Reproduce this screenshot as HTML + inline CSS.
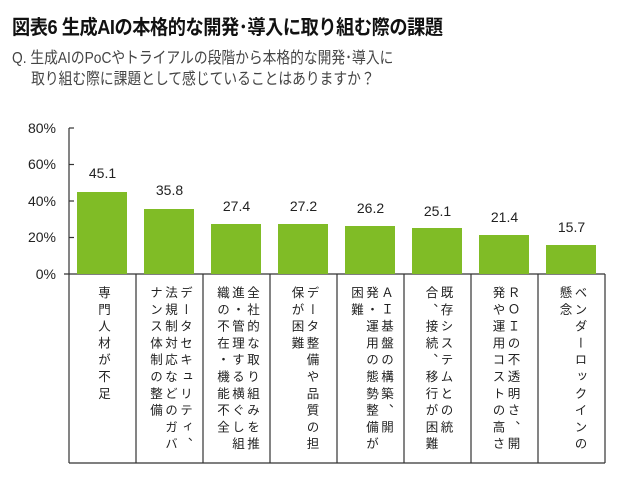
<!DOCTYPE html>
<html><head><meta charset="utf-8"><style>
body{margin:0;width:630px;height:479px;background:#fff;position:relative;overflow:hidden;font-family:"Liberation Sans","Noto Sans CJK JP",sans-serif}
.t{position:absolute;left:12px;top:11px;font-size:20px;font-weight:bold;color:#111;letter-spacing:-0.5px;transform:scaleX(0.91);transform-origin:left top;white-space:nowrap}
.q{position:absolute;left:12px;top:48px;font-size:16px;color:#444;line-height:21px;transform:scaleX(0.86);transform-origin:left top;white-space:nowrap}
.yl{position:absolute;left:0;width:56px;text-align:right;font-size:14px;color:#222}
.bar{position:absolute;background:#80bc26;width:50px}
.v{position:absolute;width:67px;text-align:center;font-size:14px;color:#222}
.cell{position:absolute;top:274px;height:189px;width:67px;display:flex;justify-content:center}
.cell div{writing-mode:vertical-rl;font-size:12.5px;letter-spacing:4.3px;line-height:15px;margin-top:12px;color:#222}
</style></head><body>
<div class="t">図表6 生成AIの本格的な開発･導入に取り組む際の課題</div>
<div class="q">Q. 生成AIのPoCやトライアルの段階から本格的な開発･導入に<br>&nbsp;&nbsp;&nbsp;&nbsp;&nbsp;取り組む際に課題として感じていることはありますか？</div>
<div class="yl" style="top:120px">80%</div>
<div class="yl" style="top:156px">60%</div>
<div class="yl" style="top:193px">40%</div>
<div class="yl" style="top:229px">20%</div>
<div class="yl" style="top:266px">0%</div>
<svg width="630" height="479" style="position:absolute;left:0;top:0">
<g stroke="#333" stroke-width="1.2" fill="none">
<line x1="69" y1="128" x2="69" y2="463"/>
<line x1="69" y1="128" x2="74" y2="128"/><line x1="69" y1="164.5" x2="74" y2="164.5"/><line x1="69" y1="201" x2="74" y2="201"/><line x1="69" y1="237.5" x2="74" y2="237.5"/>
<line x1="64" y1="274" x2="605" y2="274"/>
<line x1="69" y1="463" x2="605" y2="463"/>
<line x1="136" y1="274" x2="136" y2="463"/><line x1="203" y1="274" x2="203" y2="463"/><line x1="270" y1="274" x2="270" y2="463"/><line x1="337" y1="274" x2="337" y2="463"/><line x1="404" y1="274" x2="404" y2="463"/><line x1="471" y1="274" x2="471" y2="463"/><line x1="538" y1="274" x2="538" y2="463"/><line x1="605" y1="274" x2="605" y2="463"/>
</g></svg>
<div class="bar" style="left:77px;top:192px;height:82px"></div>
<div class="bar" style="left:144px;top:209px;height:65px"></div>
<div class="bar" style="left:211px;top:224px;height:50px"></div>
<div class="bar" style="left:278px;top:224px;height:50px"></div>
<div class="bar" style="left:345px;top:226px;height:48px"></div>
<div class="bar" style="left:412px;top:228px;height:46px"></div>
<div class="bar" style="left:479px;top:235px;height:39px"></div>
<div class="bar" style="left:546px;top:245px;height:29px"></div>
<div class="v" style="left:69px;top:165px">45.1</div>
<div class="v" style="left:136px;top:182px">35.8</div>
<div class="v" style="left:203px;top:198px">27.4</div>
<div class="v" style="left:270px;top:198px">27.2</div>
<div class="v" style="left:337px;top:200px">26.2</div>
<div class="v" style="left:404px;top:203px">25.1</div>
<div class="v" style="left:471px;top:209px">21.4</div>
<div class="v" style="left:538px;top:219px">15.7</div>
<div class="cell" style="left:69px"><div>専門人材が不足</div></div>
<div class="cell" style="left:136px"><div>データセキュリティ、<br>法規制対応などのガバ<br>ナンス体制の整備</div></div>
<div class="cell" style="left:203px"><div>全社的な取り組みを推<br>進・管理する横ぐし組<br>織の不在・機能不全</div></div>
<div class="cell" style="left:270px"><div>データ整備や品質の担<br>保が困難</div></div>
<div class="cell" style="left:337px"><div>ＡＩ基盤の構築、開<br>発・運用の態勢整備が<br>困難</div></div>
<div class="cell" style="left:404px"><div>既存システムとの統<br>合、接続、移行が困難</div></div>
<div class="cell" style="left:471px"><div>ＲＯＩの不透明さ、開<br>発や運用コストの高さ</div></div>
<div class="cell" style="left:538px"><div>ベンダーロックインの<br>懸念</div></div>
</body></html>
